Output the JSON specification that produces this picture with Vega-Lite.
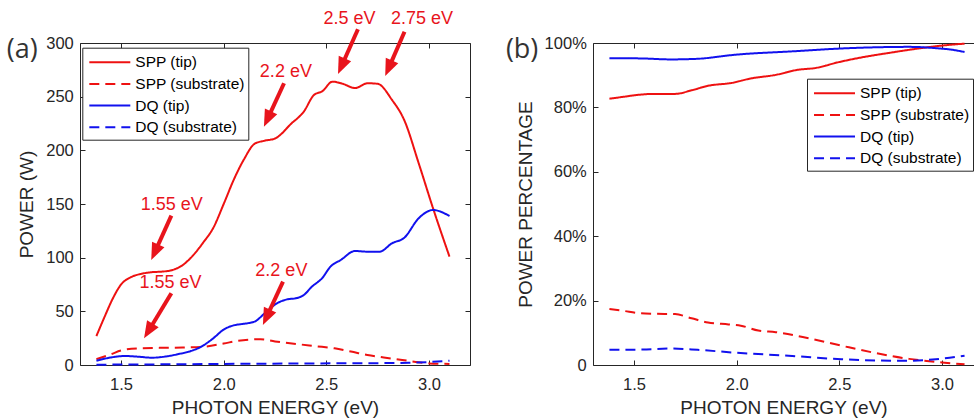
{
  "$schema": "https://vega.github.io/schema/vega-lite/v6.json",
  "padding": {"left": 6, "top": 10, "right": 0, "bottom": 0},
  "background": "white",
  "bounds": "flush",
  "spacing": 123,
  "datasets": {
    "left": [
      {"e":1.38,"p":27,"s":"SPP (tip)"},{"e":1.42,"p":45,"s":"SPP (tip)"},{"e":1.46,"p":62,"s":"SPP (tip)"},{"e":1.50,"p":75,"s":"SPP (tip)"},{"e":1.55,"p":82,"s":"SPP (tip)"},{"e":1.60,"p":85,"s":"SPP (tip)"},{"e":1.65,"p":86.5,"s":"SPP (tip)"},{"e":1.70,"p":87,"s":"SPP (tip)"},{"e":1.75,"p":88.5,"s":"SPP (tip)"},{"e":1.80,"p":93,"s":"SPP (tip)"},{"e":1.85,"p":102,"s":"SPP (tip)"},{"e":1.90,"p":114,"s":"SPP (tip)"},{"e":1.95,"p":128,"s":"SPP (tip)"},{"e":2.00,"p":150,"s":"SPP (tip)"},{"e":2.05,"p":173,"s":"SPP (tip)"},{"e":2.10,"p":192,"s":"SPP (tip)"},{"e":2.15,"p":206,"s":"SPP (tip)"},{"e":2.20,"p":209,"s":"SPP (tip)"},{"e":2.25,"p":211,"s":"SPP (tip)"},{"e":2.33,"p":225,"s":"SPP (tip)"},{"e":2.39,"p":236,"s":"SPP (tip)"},{"e":2.44,"p":251.6,"s":"SPP (tip)"},{"e":2.48,"p":255,"s":"SPP (tip)"},{"e":2.53,"p":264,"s":"SPP (tip)"},{"e":2.58,"p":262,"s":"SPP (tip)"},{"e":2.64,"p":258,"s":"SPP (tip)"},{"e":2.70,"p":262.5,"s":"SPP (tip)"},{"e":2.75,"p":262,"s":"SPP (tip)"},{"e":2.82,"p":247,"s":"SPP (tip)"},{"e":2.88,"p":228,"s":"SPP (tip)"},{"e":2.95,"p":188,"s":"SPP (tip)"},{"e":3.02,"p":146,"s":"SPP (tip)"},{"e":3.10,"p":101,"s":"SPP (tip)"},
      {"e":1.38,"p":5.5,"s":"SPP (substrate)"},{"e":1.45,"p":10,"s":"SPP (substrate)"},{"e":1.50,"p":13.5,"s":"SPP (substrate)"},{"e":1.58,"p":15.5,"s":"SPP (substrate)"},{"e":1.70,"p":16,"s":"SPP (substrate)"},{"e":1.80,"p":16.3,"s":"SPP (substrate)"},{"e":1.90,"p":17,"s":"SPP (substrate)"},{"e":2.00,"p":20,"s":"SPP (substrate)"},{"e":2.07,"p":22.6,"s":"SPP (substrate)"},{"e":2.18,"p":24,"s":"SPP (substrate)"},{"e":2.25,"p":22,"s":"SPP (substrate)"},{"e":2.38,"p":19,"s":"SPP (substrate)"},{"e":2.45,"p":17.5,"s":"SPP (substrate)"},{"e":2.54,"p":15.5,"s":"SPP (substrate)"},{"e":2.62,"p":12.5,"s":"SPP (substrate)"},{"e":2.70,"p":9.3,"s":"SPP (substrate)"},{"e":2.78,"p":7,"s":"SPP (substrate)"},{"e":2.87,"p":4.7,"s":"SPP (substrate)"},{"e":2.95,"p":2.5,"s":"SPP (substrate)"},{"e":3.00,"p":1.5,"s":"SPP (substrate)"},{"e":3.10,"p":1,"s":"SPP (substrate)"},
      {"e":1.38,"p":4,"s":"DQ (tip)"},{"e":1.45,"p":7,"s":"DQ (tip)"},{"e":1.52,"p":8.4,"s":"DQ (tip)"},{"e":1.58,"p":7.8,"s":"DQ (tip)"},{"e":1.65,"p":6.8,"s":"DQ (tip)"},{"e":1.72,"p":8,"s":"DQ (tip)"},{"e":1.78,"p":10.2,"s":"DQ (tip)"},{"e":1.84,"p":13,"s":"DQ (tip)"},{"e":1.89,"p":17,"s":"DQ (tip)"},{"e":1.95,"p":25,"s":"DQ (tip)"},{"e":2.00,"p":33,"s":"DQ (tip)"},{"e":2.05,"p":37,"s":"DQ (tip)"},{"e":2.09,"p":38.2,"s":"DQ (tip)"},{"e":2.15,"p":40.4,"s":"DQ (tip)"},{"e":2.20,"p":48.2,"s":"DQ (tip)"},{"e":2.26,"p":57.5,"s":"DQ (tip)"},{"e":2.31,"p":61.2,"s":"DQ (tip)"},{"e":2.35,"p":62.1,"s":"DQ (tip)"},{"e":2.39,"p":65.2,"s":"DQ (tip)"},{"e":2.43,"p":73,"s":"DQ (tip)"},{"e":2.48,"p":81,"s":"DQ (tip)"},{"e":2.52,"p":91.6,"s":"DQ (tip)"},{"e":2.57,"p":97.8,"s":"DQ (tip)"},{"e":2.64,"p":106.2,"s":"DQ (tip)"},{"e":2.70,"p":105.6,"s":"DQ (tip)"},{"e":2.76,"p":105.6,"s":"DQ (tip)"},{"e":2.82,"p":113.4,"s":"DQ (tip)"},{"e":2.88,"p":118.6,"s":"DQ (tip)"},{"e":2.95,"p":136.7,"s":"DQ (tip)"},{"e":3.02,"p":144.4,"s":"DQ (tip)"},{"e":3.10,"p":138.8,"s":"DQ (tip)"},
      {"e":1.38,"p":0.3,"s":"DQ (substrate)"},{"e":1.6,"p":0.5,"s":"DQ (substrate)"},{"e":1.8,"p":0.7,"s":"DQ (substrate)"},{"e":2.0,"p":1.0,"s":"DQ (substrate)"},{"e":2.2,"p":1.2,"s":"DQ (substrate)"},{"e":2.4,"p":1.4,"s":"DQ (substrate)"},{"e":2.6,"p":1.6,"s":"DQ (substrate)"},{"e":2.8,"p":1.8,"s":"DQ (substrate)"},{"e":2.9,"p":2.0,"s":"DQ (substrate)"},{"e":3.0,"p":2.8,"s":"DQ (substrate)"},{"e":3.1,"p":4,"s":"DQ (substrate)"}
    ],
    "right": [
      {"e":1.38,"p":82.7,"s":"SPP (tip)"},{"e":1.45,"p":83.3,"s":"SPP (tip)"},{"e":1.52,"p":83.9,"s":"SPP (tip)"},{"e":1.60,"p":84.2,"s":"SPP (tip)"},{"e":1.70,"p":84.2,"s":"SPP (tip)"},{"e":1.78,"p":85.3,"s":"SPP (tip)"},{"e":1.86,"p":86.7,"s":"SPP (tip)"},{"e":1.975,"p":87.6,"s":"SPP (tip)"},{"e":2.07,"p":89,"s":"SPP (tip)"},{"e":2.19,"p":90.1,"s":"SPP (tip)"},{"e":2.30,"p":91.7,"s":"SPP (tip)"},{"e":2.38,"p":92.2,"s":"SPP (tip)"},{"e":2.50,"p":94.1,"s":"SPP (tip)"},{"e":2.59,"p":95.3,"s":"SPP (tip)"},{"e":2.76,"p":97.1,"s":"SPP (tip)"},{"e":2.92,"p":98.6,"s":"SPP (tip)"},{"e":3.00,"p":99.2,"s":"SPP (tip)"},{"e":3.11,"p":99.8,"s":"SPP (tip)"},
      {"e":1.38,"p":17.4,"s":"SPP (substrate)"},{"e":1.45,"p":16.8,"s":"SPP (substrate)"},{"e":1.52,"p":16.1,"s":"SPP (substrate)"},{"e":1.60,"p":15.9,"s":"SPP (substrate)"},{"e":1.70,"p":15.8,"s":"SPP (substrate)"},{"e":1.78,"p":14.5,"s":"SPP (substrate)"},{"e":1.86,"p":13.2,"s":"SPP (substrate)"},{"e":1.96,"p":12.6,"s":"SPP (substrate)"},{"e":2.02,"p":12.2,"s":"SPP (substrate)"},{"e":2.105,"p":10.7,"s":"SPP (substrate)"},{"e":2.19,"p":10.2,"s":"SPP (substrate)"},{"e":2.35,"p":8.3,"s":"SPP (substrate)"},{"e":2.51,"p":6,"s":"SPP (substrate)"},{"e":2.67,"p":3.8,"s":"SPP (substrate)"},{"e":2.84,"p":1.9,"s":"SPP (substrate)"},{"e":3.0,"p":0.8,"s":"SPP (substrate)"},{"e":3.11,"p":0.2,"s":"SPP (substrate)"},
      {"e":1.38,"p":95.3,"s":"DQ (tip)"},{"e":1.54,"p":95.2,"s":"DQ (tip)"},{"e":1.68,"p":94.9,"s":"DQ (tip)"},{"e":1.81,"p":95.1,"s":"DQ (tip)"},{"e":2.0,"p":96.4,"s":"DQ (tip)"},{"e":2.27,"p":97.4,"s":"DQ (tip)"},{"e":2.51,"p":98.3,"s":"DQ (tip)"},{"e":2.84,"p":98.8,"s":"DQ (tip)"},{"e":2.97,"p":98.4,"s":"DQ (tip)"},{"e":3.05,"p":97.9,"s":"DQ (tip)"},{"e":3.11,"p":97.2,"s":"DQ (tip)"},
      {"e":1.38,"p":4.7,"s":"DQ (substrate)"},{"e":1.54,"p":4.8,"s":"DQ (substrate)"},{"e":1.68,"p":5.1,"s":"DQ (substrate)"},{"e":1.81,"p":4.7,"s":"DQ (substrate)"},{"e":2.0,"p":3.8,"s":"DQ (substrate)"},{"e":2.27,"p":2.8,"s":"DQ (substrate)"},{"e":2.51,"p":1.8,"s":"DQ (substrate)"},{"e":2.84,"p":1.3,"s":"DQ (substrate)"},{"e":2.97,"p":1.8,"s":"DQ (substrate)"},{"e":3.11,"p":2.9,"s":"DQ (substrate)"}
    ],
    "ann": [
      {"label":"1.55 eV","tx":1.747,"ty":149.1,"e1":1.745,"p1":139.1,"e2":1.647,"p2":97.8},
      {"label":"1.55 eV","tx":1.741,"ty":76.1,"e1":1.745,"p1":66.8,"e2":1.612,"p2":24.9},
      {"label":"2.2 eV","tx":2.281,"ty":87.6,"e1":2.289,"p1":77.6,"e2":2.191,"p2":37.3},
      {"label":"2.2 eV","tx":2.303,"ty":273.3,"e1":2.294,"p1":262.5,"e2":2.196,"p2":222},
      {"label":"2.5 eV","tx":2.613,"ty":322.1,"e1":2.654,"p1":312.8,"e2":2.557,"p2":271.1},
      {"label":"2.75 eV","tx":2.966,"ty":322.1,"e1":2.881,"p1":310.5,"e2":2.787,"p2":269.2}
    ],
    "panels": [
      {"panel":"a","label":"(a)","e":1.019,"p":293.5},
      {"panel":"b","label":"(b)","e":0.9546,"p":97.8}
    ]
  },
  "resolve": {
    "scale": {"color": "independent", "strokeDash": "independent"},
    "legend": {"color": "independent", "strokeDash": "independent"}
  },
  "hconcat": [
    {
      "width": 390,
      "height": 322,
      "resolve": {"axis": {"x": "independent", "y": "independent"}},
      "layer": [
        {
          "data": {"name": "left"},
          "mark": {"type": "line", "strokeWidth": 2, "interpolate": "monotone"},
          "encoding": {
            "x": {"field": "e", "type": "quantitative", "scale": {"domain": [1.3, 3.2], "nice": false, "zero": false},
                  "axis": {"orient": "bottom", "values": [1.5, 2, 2.5, 3], "title": "PHOTON ENERGY (eV)", "labelPadding": 16.8, "titlePadding": 5}},
            "y": {"field": "p", "type": "quantitative", "scale": {"domain": [0, 300], "nice": false},
                  "axis": {"orient": "left", "values": [0, 50, 100, 150, 200, 250, 300], "title": "POWER (W)", "labelPadding": 11.7, "titlePadding": 9.5}},
            "color": {"field": "s", "type": "nominal",
                      "scale": {"domain": ["SPP (tip)", "SPP (substrate)", "DQ (tip)", "DQ (substrate)"], "range": ["#EE1111", "#EE1111", "#1111EE", "#1111EE"]},
                      "legend": {"orient": "none", "legendX": 2.3, "legendY": 4.7, "title": null}},
            "strokeDash": {"field": "s", "type": "nominal",
                      "scale": {"domain": ["SPP (tip)", "SPP (substrate)", "DQ (tip)", "DQ (substrate)"], "range": [[1, 0], [10, 6], [1, 0], [10, 6]]},
                      "legend": {"orient": "none", "legendX": 2.3, "legendY": 4.7, "title": null}}
          }
        },
        {
          "data": {"name": "ann"},
          "transform": [
            {"calculate": "datum.e1 + 0.72*(datum.e2-datum.e1)", "as": "e3"},
            {"calculate": "datum.p1 + 0.72*(datum.p2-datum.p1)", "as": "p3"}
          ],
          "mark": {"type": "rule", "strokeWidth": 4, "color": "#E8141C"},
          "encoding": {
            "x": {"field": "e1", "type": "quantitative", "axis": {"orient": "top", "labels": false, "title": null, "values": [1.5, 2, 2.5, 3]}},
            "y": {"field": "p1", "type": "quantitative", "axis": {"orient": "right", "labels": false, "title": null, "values": [0, 50, 100, 150, 200, 250, 300]}},
            "x2": {"field": "e3"},
            "y2": {"field": "p3"}
          }
        },
        {
          "data": {"name": "ann"},
          "transform": [
            {"calculate": "atan2((datum.e2-datum.e1)*205.26, (datum.p2-datum.p1)*1.0733)*180/PI", "as": "ang"}
          ],
          "mark": {"type": "point", "shape": "M0,0L-0.4,1L0.4,1Z", "filled": true, "size": 1156, "color": "#E8141C", "opacity": 1, "strokeWidth": 0},
          "encoding": {
            "x": {"field": "e2", "type": "quantitative", "axis": null},
            "y": {"field": "p2", "type": "quantitative", "axis": null},
            "angle": {"field": "ang", "type": "quantitative", "scale": null}
          }
        },
        {
          "data": {"name": "ann"},
          "mark": {"type": "text", "fontSize": 18, "font": "Liberation Sans", "color": "#E8141C"},
          "encoding": {
            "x": {"field": "tx", "type": "quantitative", "axis": null},
            "y": {"field": "ty", "type": "quantitative", "axis": null},
            "text": {"field": "label"}
          }
        },
        {
          "data": {"name": "panels"},
          "transform": [{"filter": "datum.panel == 'a'"}],
          "mark": {"type": "text", "fontSize": 27, "font": "Open Sans", "color": "#333333"},
          "encoding": {
            "x": {"field": "e", "type": "quantitative", "axis": null},
            "y": {"field": "p", "type": "quantitative", "axis": null},
            "text": {"field": "label"}
          }
        }
      ]
    },
    {
      "width": 381,
      "height": 322,
      "resolve": {"axis": {"x": "independent", "y": "independent"}},
      "layer": [
        {
          "data": {"name": "right"},
          "mark": {"type": "line", "strokeWidth": 2, "interpolate": "monotone"},
          "encoding": {
            "x": {"field": "e", "type": "quantitative", "scale": {"domain": [1.3, 3.156], "nice": false, "zero": false},
                  "axis": {"orient": "bottom", "values": [1.5, 2, 2.5, 3], "title": "PHOTON ENERGY (eV)", "labelPadding": 16.8, "titlePadding": 5}},
            "y": {"field": "p", "type": "quantitative", "scale": {"domain": [0, 100], "nice": false},
                  "axis": {"orient": "left", "values": [0, 20, 40, 60, 80, 100], "labelExpr": "datum.value == 0 ? '0' : datum.value + '%'", "title": "POWER PERCENTAGE", "labelPadding": 11.7, "titlePadding": 8.5}},
            "color": {"field": "s", "type": "nominal",
                      "scale": {"domain": ["SPP (tip)", "SPP (substrate)", "DQ (tip)", "DQ (substrate)"], "range": ["#EE1111", "#EE1111", "#1111EE", "#1111EE"]},
                      "legend": {"orient": "none", "legendX": 214, "legendY": 35.7, "title": null}},
            "strokeDash": {"field": "s", "type": "nominal",
                      "scale": {"domain": ["SPP (tip)", "SPP (substrate)", "DQ (tip)", "DQ (substrate)"], "range": [[1, 0], [10, 6], [1, 0], [10, 6]]},
                      "legend": {"orient": "none", "legendX": 214, "legendY": 35.7, "title": null}}
          }
        },
        {
          "data": {"name": "panels"},
          "transform": [{"filter": "datum.panel == 'b'"}],
          "mark": {"type": "text", "fontSize": 27, "font": "Open Sans", "color": "#333333"},
          "encoding": {
            "x": {"field": "e", "type": "quantitative", "axis": {"orient": "top", "labels": false, "title": null, "values": [1.5, 2, 2.5, 3]}},
            "y": {"field": "p", "type": "quantitative", "axis": null},
            "text": {"field": "label"}
          }
        }
      ]
    }
  ],
  "config": {
    "view": {"stroke": null},
    "font": "Liberation Sans",
    "axis": {
      "domainColor": "#262626", "domainWidth": 1, "tickColor": "#262626", "tickWidth": 1, "tickSize": -5,
      "labelColor": "#262626", "titleColor": "#262626", "labelFont": "Liberation Sans", "titleFont": "Liberation Sans",
      "labelFontSize": 16.5, "titleFontSize": 19, "titleFontWeight": "normal", "grid": false,
      "labelFlush": false, "labelOverlap": false
    },
    "legend": {
      "symbolType": "M-0.73,0L3.27,0", "symbolSize": 420, "symbolStrokeWidth": 2,
      "labelFont": "Liberation Sans", "labelFontSize": 15.5, "labelColor": "#000000",
      "strokeColor": "#262626", "fillColor": "#ffffff", "padding": 3, "rowPadding": 1.7, "labelOffset": 27, "labelLimit": 300
    }
  }
}
